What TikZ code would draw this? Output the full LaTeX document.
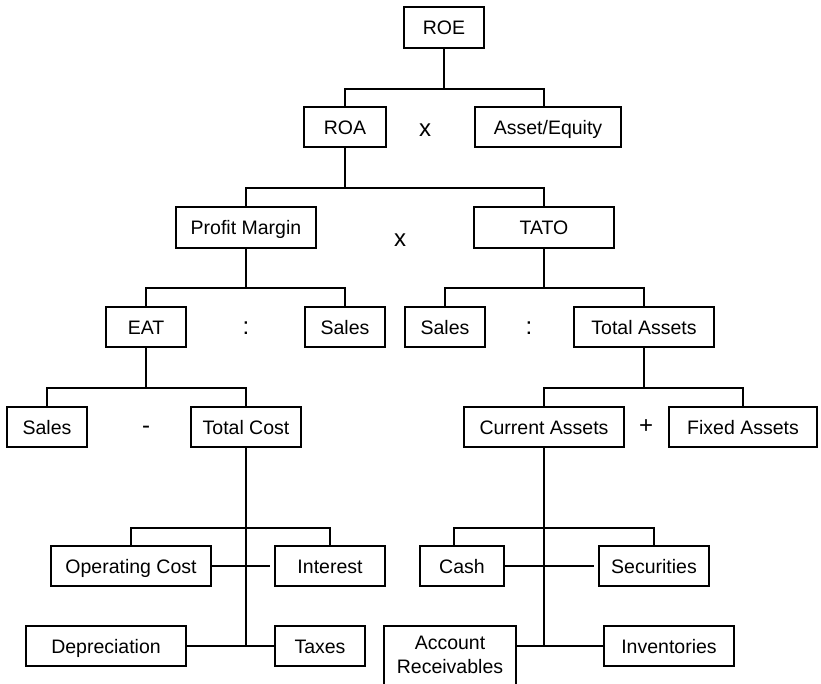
\documentclass[tikz,border=0pt]{standalone}
\usepackage{fontspec}
\setmainfont{Liberation Sans}
\usetikzlibrary{calc}
\tikzset{
  box/.style={draw, line width=2pt, inner sep=0pt, minimum height=40pt, text height=16pt, text depth=2pt, font=\fontsize{19.5}{23}\selectfont},
  conn/.style={line width=2pt},
  op/.style={inner sep=0pt, font=\fontsize{24}{26}\selectfont},
}
\begin{document}
\begin{tikzpicture}[x=1pt,y=-1pt]
\useasboundingbox (0,0) rectangle (821,683);
\clip (0,0) rectangle (821,683);
\fill[white] (0,0) rectangle (821,683);
% nodes
\node[box, minimum width=80pt, minimum height=41pt] (ROE) at (444,27.5) {ROE};
\node[box, minimum width=82pt] (ROA) at (345,127) {ROA};
\node[box, minimum width=146pt] (AE) at (548,127) {Asset/Equity};
\node[op] (x1) at (425,130) {x};
\node[box, minimum width=140pt, minimum height=41pt] (PM) at (246,227.5) {Profit Margin};
\node[box, minimum width=140pt, minimum height=41pt] (TATO) at (544,227.5) {TATO};
\node[op] (x2) at (400,240) {x};
\node[box, minimum width=80pt] (EAT) at (146,327) {EAT};
\node[box, minimum width=80pt] (SL) at (345,327) {Sales};
\node[op] (c1) at (246,328) {:};
\node[box, minimum width=80pt] (SR) at (445,327) {Sales};
\node[box, minimum width=140pt] (TA) at (644,327) {Total Assets};
\node[op] (c2) at (529,328) {:};
\node[box, minimum width=80pt] (S2) at (47,427) {Sales};
\node[box, minimum width=110pt] (TC) at (246,427) {Total Cost};
\node[op] (m1) at (146,430) {-};
\node[box, minimum width=160pt] (CA) at (544,427) {Current Assets};
\node[box, minimum width=148pt] (FA) at (743,427) {Fixed Assets};
\node[op] (p1) at (646,427) {+};
\node[box, minimum width=160pt] (OC) at (131,566) {Operating Cost};
\node[box, minimum width=110pt] (INT) at (330,566) {Interest};
\node[box, minimum width=84pt] (CASH) at (462,566) {Cash};
\node[box, minimum width=110pt] (SEC) at (654,566) {Securities};
\node[box, minimum width=160pt] (DEP) at (106,646) {Depreciation};
\node[box, minimum width=90pt] (TAX) at (320,646) {Taxes};
\node[box, minimum width=132pt, minimum height=80pt, text height=0pt, text depth=0pt] (AR) at (450,666) {};
\node[align=center, inner sep=0pt, font=\fontsize{19.5}{24}\selectfont] (ARt) at (450,655) {Account\\Receivables};
\node[box, minimum width=130pt] (INV) at (669,646) {Inventories};
% connectors
\draw[conn] (ROE.south) -- ++(0,40);
\draw[conn] (ROA.north) |- ($(ROE.south)+(0,40)$) -| ([xshift=-4pt]AE.north);
\draw[conn] (ROA.south) -- ++(0,40);
\draw[conn] (PM.north) |- ($(ROA.south)+(0,40)$) -| (TATO.north);
\draw[conn] (PM.south) -- ++(0,39);
\draw[conn] (EAT.north) |- ($(PM.south)+(0,39)$) -| (SL.north);
\draw[conn] (TATO.south) -- ++(0,39);
\draw[conn] (SR.north) |- ($(TATO.south)+(0,39)$) -| (TA.north);
\draw[conn] (EAT.south) -- ++(0,40);
\draw[conn] (S2.north) |- ($(EAT.south)+(0,40)$) -| (TC.north);
\draw[conn] (TA.south) -- ++(0,40);
\draw[conn] (CA.north) |- ($(TA.south)+(0,40)$) -| (FA.north);
% total cost subtree
\draw[conn] (TC.south) -- (TC.south |- DEP.east);
\draw[conn] (OC.north) |- ($(TC.south)+(0,80)$) -| (INT.north);
\draw[conn, shorten >=4pt] (OC.east) -- (INT.west);
\draw[conn] (DEP.east) -- (TAX.west);
% current assets subtree
\draw[conn] (CA.south) -- (CA.south |- INV.west);
\draw[conn] ([xshift=-8pt]CASH.north) |- ($(CA.south)+(0,80)$) -| (SEC.north);
\draw[conn, shorten >=4pt] (CASH.east) -- (SEC.west);
\draw[conn] (AR.east |- INV.west) -- (INV.west);
\end{tikzpicture}
\end{document}
